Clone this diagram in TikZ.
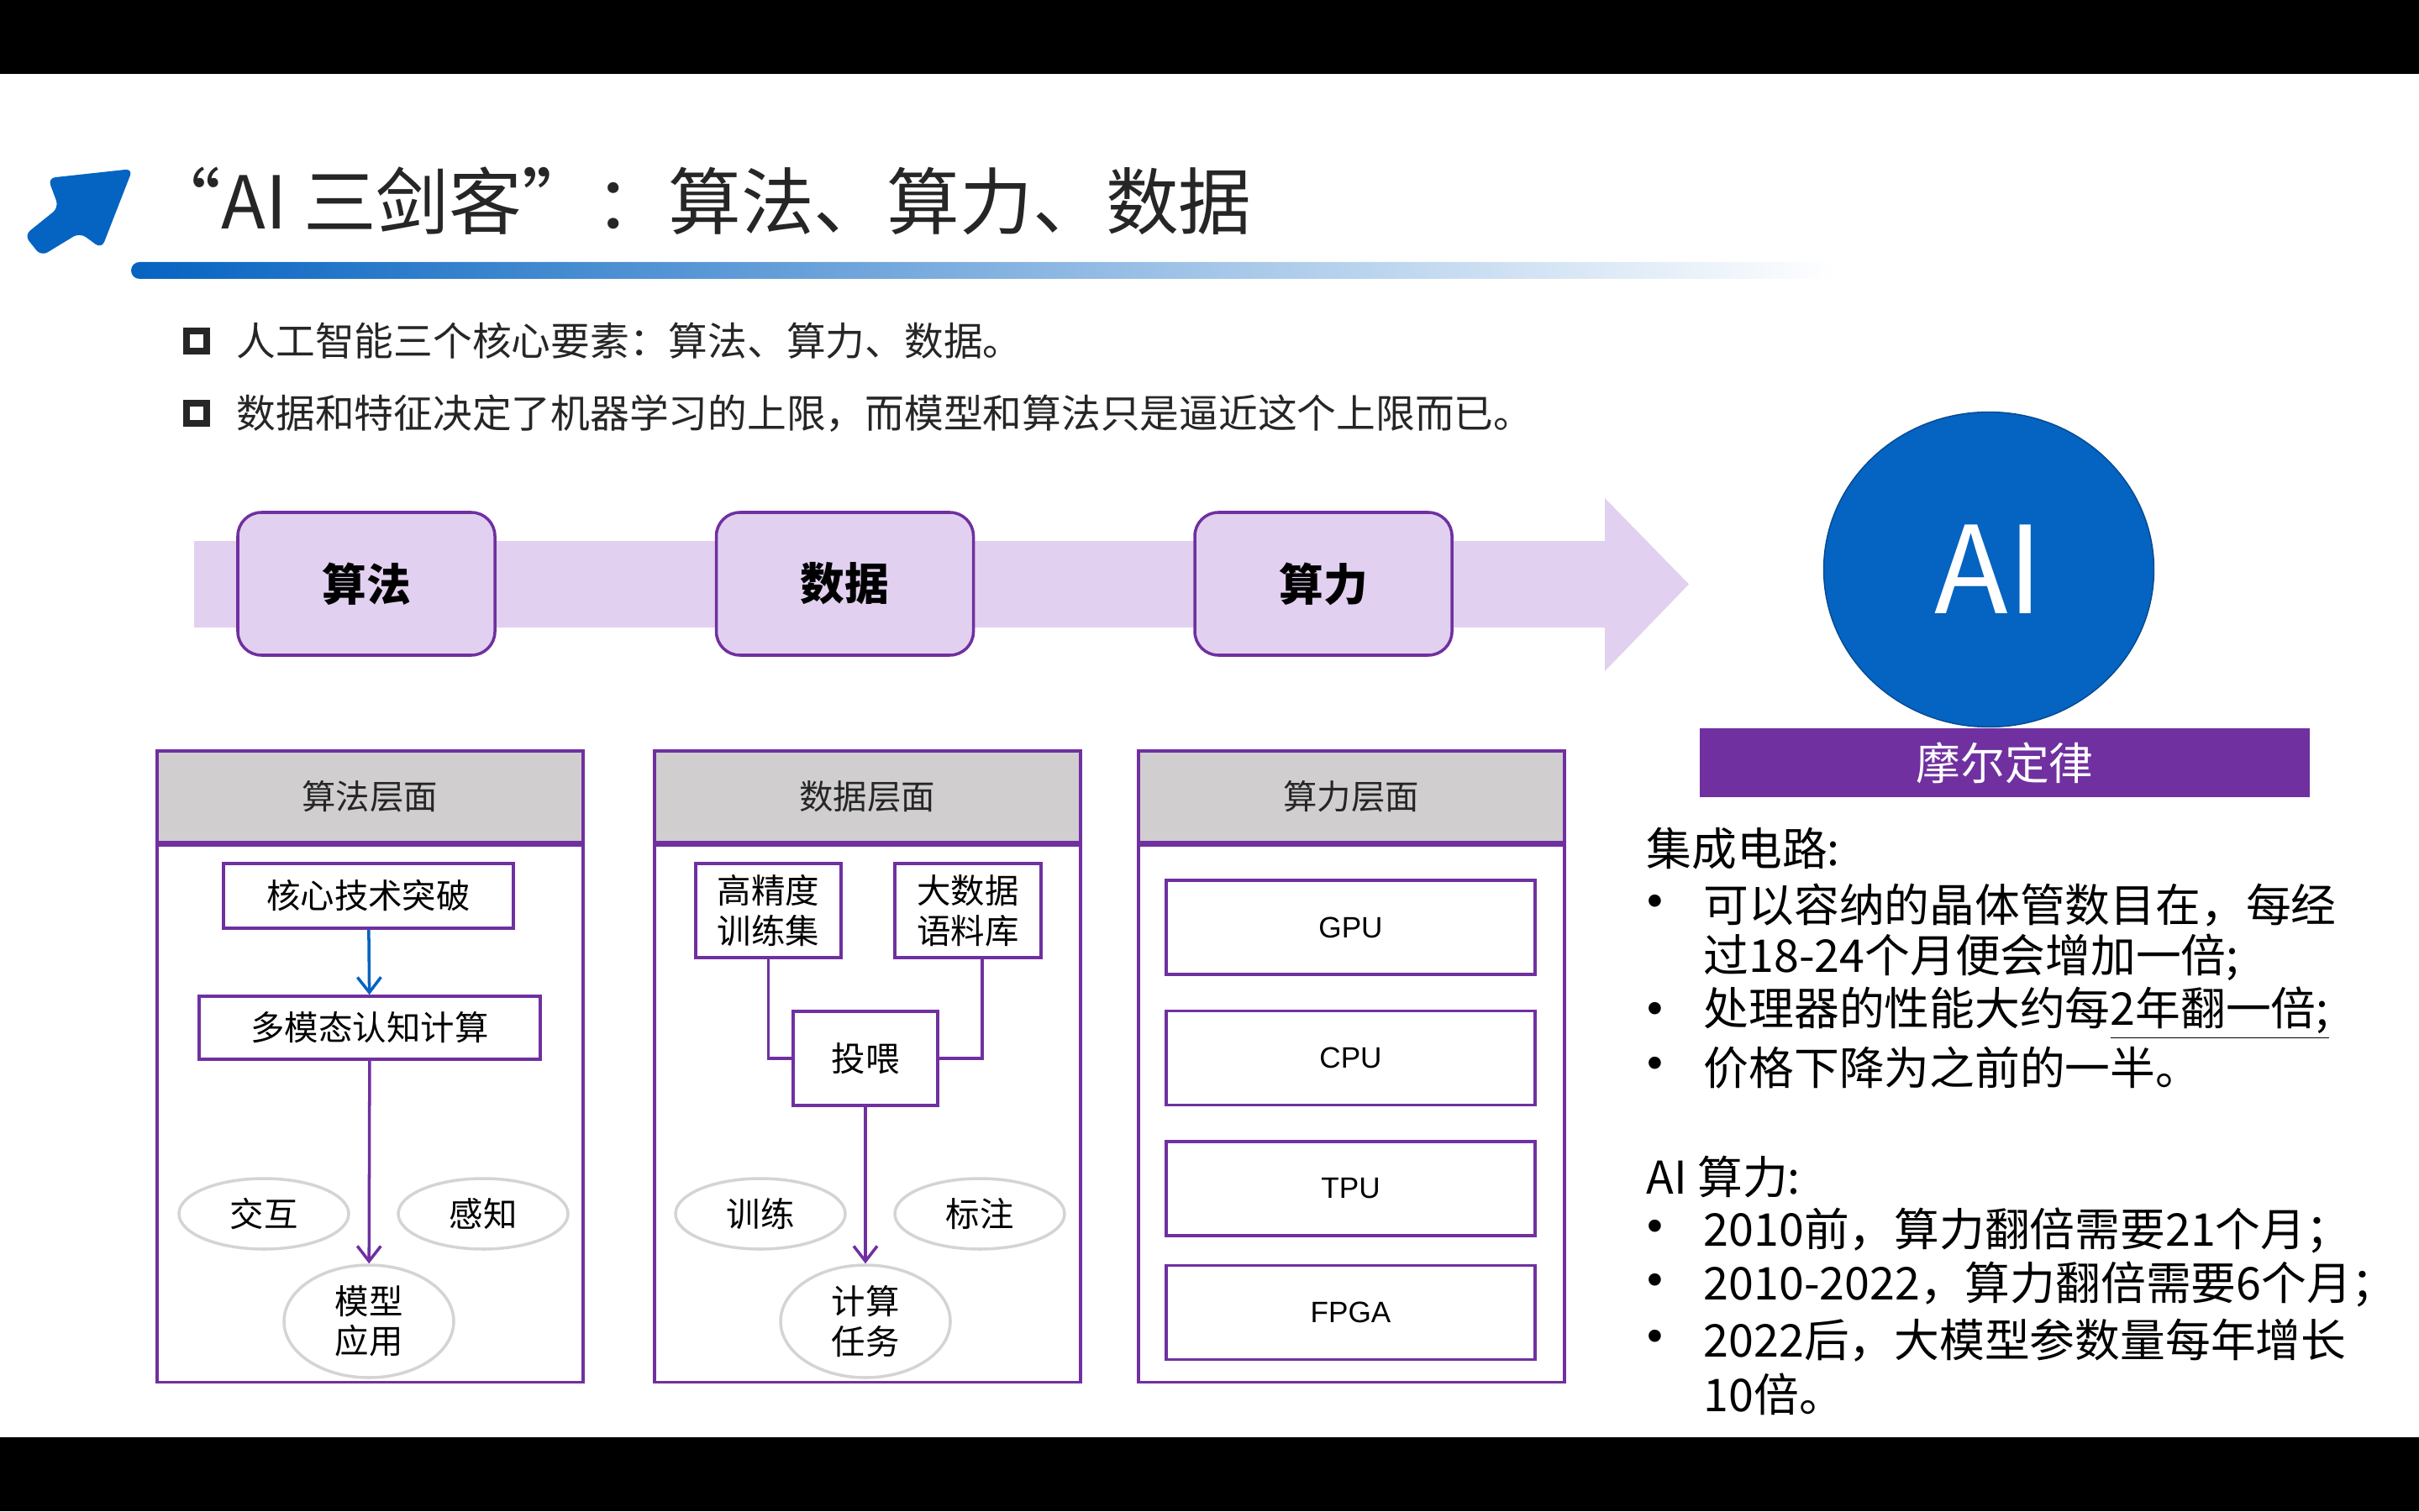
\documentclass[tikz,border=0pt]{standalone}
\usepackage{fontspec}
\setmainfont{Noto Sans CJK SC}
\newfontfamily\arialsf{Liberation Sans}
\usetikzlibrary{positioning, shapes.geometric, arrows.meta, calc}

\definecolor{iconblue}{RGB}{5,99,193}
\definecolor{mpurple}{RGB}{112,48,160}
\definecolor{lav}{RGB}{225,208,240}
\definecolor{headgray}{RGB}{208,206,206}
\definecolor{ringgray}{RGB}{212,212,212}
\definecolor{ink}{RGB}{38,38,38}

\begin{document}
\begin{tikzpicture}[
  font=\fontsize{11.5}{13.5}\selectfont,
  node distance=0.42cm and 2.60cm,
  stage/.style={draw=mpurple, line width=1pt, fill=lav, rounded corners=8pt,
                minimum width=3.06cm, minimum height=1.70cm,
                font=\fontsize{15}{18}\selectfont\bfseries},
  head/.style={draw=mpurple, line width=1pt, fill=headgray, minimum width=5.07cm,
               minimum height=1.09cm, anchor=north west, text=ink},
  panel/.style={draw=mpurple, line width=1pt, minimum width=5.07cm,
                minimum height=6.39cm, anchor=north},
  cell/.style={draw=mpurple, line width=1pt, fill=white, align=center, inner sep=2pt},
  chip/.style={cell, minimum width=4.39cm, minimum height=1.12cm,
               font=\arialsf\fontsize{10}{12}\selectfont},
  oval/.style={draw=ringgray, line width=1pt, ellipse, minimum width=2.02cm,
               minimum height=0.84cm, inner sep=0pt, align=center},
  feed/.style={-{Straight Barb[length=1.8mm, width=2.8mm]}, draw=mpurple, line width=1pt},
  link/.style={draw=mpurple, line width=1pt},
  square/.style={draw=ink, line width=2pt, minimum size=0.24cm, inner sep=0pt},
  txt/.style={anchor=west, inner sep=0pt, font=\fontsize{15.3}{18}\selectfont},
  bdot/.style={inner sep=0pt, font=\arialsf\fontsize{15.3}{18}\selectfont},
]

\useasboundingbox (0,0) rectangle (28.79,-17.99);
\fill[black] (0,0) rectangle (28.79,-0.88);
\fill[black] (0,-17.11) rectangle (28.79,-17.99);

% title
\fill[iconblue, rounded corners=2.5pt] (1.58,-2.01) -- (1.21,-2.96) -- (0.95,-2.77)
  -- (0.49,-3.05) -- (0.29,-2.80) -- (0.70,-2.47) -- (0.57,-2.12) -- cycle;
\node[anchor=west, inner sep=0pt, text=ink, font=\fontsize{24.7}{28}\selectfont]
  (title) at (1.76,-2.39) {“AI 三剑客”：算法、算力、数据};
\shade[left color=iconblue, middle color=iconblue!35, right color=white, rounded corners=0.1cm]
  (1.56,-3.12) rectangle (21.85,-3.32);

\node[square] (sq1) at (2.34,-4.06) {};
\node[anchor=west, inner sep=0pt, text=ink, font=\fontsize{13.3}{16}\selectfont]
  (pt1) at (2.81,-4.06) {人工智能三个核心要素：算法、算力、数据。};
\node[square] (sq2) at (2.34,-4.92) {};
\node[anchor=west, inner sep=0pt, text=ink, font=\fontsize{13.3}{16}\selectfont]
  (pt2) at (2.81,-4.92) {数据和特征决定了机器学习的上限，而模型和算法只是逼近这个上限而已。};

% big arrow
\fill[lav] (2.31,-6.44) -- (19.10,-6.44) -- (19.10,-5.93) -- (20.10,-6.955)
  -- (19.10,-7.99) -- (19.10,-7.47) -- (2.31,-7.47) -- cycle;
\node[stage] (algo) at (4.36,-6.95) {算法};
\node[stage, right=of algo] (data) {数据};
\node[stage, right=of data] (power) {算力};

% panels
\node[head] (h1) at (1.85,-8.92) {算法层面};
\node[panel] (p1) at (h1.south) {};
\node[head] (h2) at (7.77,-8.92) {数据层面};
\node[panel] (p2) at (h2.south) {};
\node[head] (h3) at (13.53,-8.92) {算力层面};
\node[panel] (p3) at (h3.south) {};

\node[cell, minimum width=3.45cm, minimum height=0.77cm] (core) at (4.385,-10.665) {核心技术突破};
\node[cell, minimum width=4.06cm, minimum height=0.75cm] (multi) at (4.40,-12.235) {多模态认知计算};
\node[oval] (inter) at (3.14,-14.45) {交互};
\node[oval] (sense) at (5.75,-14.45) {感知};
\node[oval, minimum height=1.34cm] (model) at (4.39,-15.73) {模型\\应用};
\draw[feed, draw=iconblue] (core) -- (multi);
\draw[feed] (multi) -- (model);

\node[cell, minimum width=1.73cm, minimum height=1.12cm] (hiacc) at (9.145,-10.84) {高精度\\训练集};
\node[cell, minimum width=1.74cm, minimum height=1.12cm] (corpus) at (11.52,-10.84) {大数据\\语料库};
\node[cell, minimum width=1.72cm, minimum height=1.12cm] (feedin) at (10.30,-12.60) {投喂};
\node[oval] (train) at (9.05,-14.45) {训练};
\node[oval] (label) at (11.66,-14.45) {标注};
\node[oval, minimum height=1.34cm] (task) at (10.30,-15.73) {计算\\任务};
\draw[link] (hiacc) |- (feedin);
\draw[link] ([xshift=1.7mm]corpus.south) |- (feedin);
\draw[feed] (feedin) -- (task);

\node[chip] (gpu) at (16.075,-11.04) {GPU};
\node[chip, below=0.40cm of gpu] (cpu) {CPU};
\node[chip, below=0.40cm of cpu] (tpu) {TPU};
\node[chip, below=0.32cm of tpu] (fpga) {FPGA};

% right side
\node[ellipse, fill=iconblue, draw=iconblue!75!black, minimum width=3.93cm, minimum height=3.75cm,
      text=white, font=\fontsize{41}{45}\selectfont] (ai) at (23.67,-6.78) {AI};
\node[fill=mpurple, minimum width=7.26cm, minimum height=0.82cm, text=white,
      font=\fontsize{15}{18}\selectfont] (moore) at (23.86,-9.08) {摩尔定律};

\node[txt] (ic0) at (19.59,-10.10) {集成电路:};
\node[bdot] (dt1) at (19.70,-10.78) {•};
\node[txt] (ic1) at (20.27,-10.78) {可以容纳的晶体管数目在，每经};
\node[txt] (ic2) at (20.27,-11.40) {过18-24个月便会增加一倍;};
\node[bdot] (dt2) at (19.70,-12.06) {•};
\node[txt] (ic3) at (20.27,-12.06) {处理器的性能大约每\underline{2年翻一倍;}};
\node[bdot] (dt3) at (19.70,-12.71) {•};
\node[txt] (ic4) at (20.27,-12.71) {价格下降为之前的一半。};

\node[txt] (cp0) at (19.59,-14.01) {AI 算力:};
\node[bdot] (dt4) at (19.70,-14.65) {•};
\node[txt] (cp1) at (20.27,-14.65) {2010前，算力翻倍需要21个月；};
\node[bdot] (dt5) at (19.70,-15.29) {•};
\node[txt] (cp2) at (20.27,-15.29) {2010-2022，算力翻倍需要6个月；};
\node[bdot] (dt6) at (19.70,-15.96) {•};
\node[txt] (cp3) at (20.27,-15.96) {2022后，大模型参数量每年增长};
\node[txt] (cp4) at (20.27,-16.60) {10倍。};

\end{tikzpicture}
\end{document}
